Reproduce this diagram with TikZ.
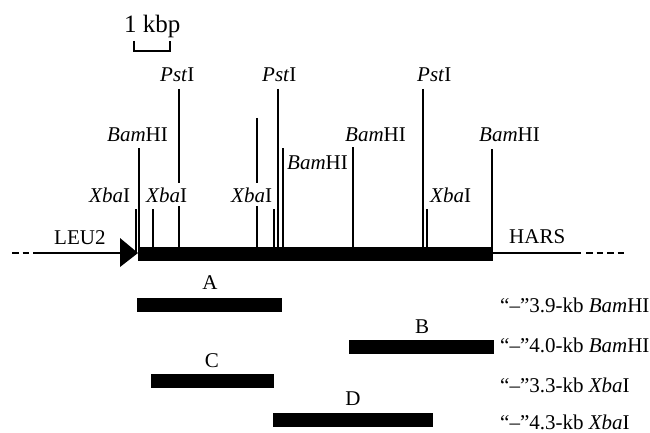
\documentclass[tikz,border=0pt]{standalone}
\usepackage{fontspec}
\setmainfont{Liberation Serif}
\begin{document}
\begin{tikzpicture}[x=1pt, y=-1pt,
  font=\fontsize{21}{25}\selectfont,
  lbl/.style={inner sep=0pt, anchor=base west},
  clbl/.style={inner sep=0pt, anchor=base},
  masklbl/.style={lbl, fill=white, inner xsep=1pt, inner ysep=4pt},
  site/.style={line width=2pt},
  seg/.style={fill=black, draw=none, inner sep=0pt, minimum height=14pt},
  flank/.style={line width=2.5pt},
  flankdash/.style={line width=2.5pt, dash pattern=on 6.5pt off 4pt}]
\useasboundingbox (0,0) rectangle (650,433);

% scale bar
\node[lbl, font=\fontsize{25}{29}\selectfont] (kbp) at (124,33) {1 kbp};
\coordinate (s1) at (134,41);
\coordinate (s2) at (170,41);
\draw[line width=1.3pt] (s1) -- (s1 |- 0,51) -- (s2 |- 0,51) -- (s2);

% flanking vector sequences
\coordinate (lA) at (12,253);
\coordinate (lB) at (40,253);
\coordinate (lC) at (120,253);
\draw[flankdash] (lA) -- (lB);
\draw[flank] (lB) -- (lC);
\fill (120,238) -- (138,253) -- (120,267) -- cycle;
\coordinate (rA) at (493,253);
\coordinate (rB) at (581,253);
\coordinate (rC) at (586,253);
\coordinate (rD) at (626,253);
\draw[flank] (rA) -- (rB);
\draw[flankdash] (rC) -- (rD);
\node[lbl] (leu) at (54,244) {LEU2};
\node[lbl] (hars) at (509,243) {HARS};

% restriction sites
\foreach \x/\t in {136/209, 139/148, 153/209, 179/89, 257/118, 274/209,
                   278/89, 283/148, 353/147, 423/89, 427/209, 492/149}
  \draw[site] (\x,\t) -- (\x,254);

% cloned insert
\node[seg, minimum width=355pt] (insert) at (315.5,254) {};

% site labels
\node[lbl] (p1) at (160,82) {\textit{Pst}I};
\node[lbl] (p2) at (262,82) {\textit{Pst}I};
\node[lbl] (p3) at (417,82) {\textit{Pst}I};
\node[lbl] (b1) at (107,142) {\textit{Bam}HI};
\node[lbl] (b2) at (345,142) {\textit{Bam}HI};
\node[lbl] (b3) at (479,142) {\textit{Bam}HI};
\node[lbl] (b4) at (287,169) {\textit{Bam}HI};
\node[lbl] (x1) at (89,202) {\textit{Xba}I};
\node[masklbl] (x2) at (145,202) {\textit{Xba}I};
\node[masklbl] (x3) at (230,202) {\textit{Xba}I};
\node[lbl] (x4) at (430,202) {\textit{Xba}I};

% probe fragments
\node[seg, minimum width=145pt] (fa) at (209.5,305) {};
\node[seg, minimum width=145pt] (fb) at (421.5,347) {};
\node[seg, minimum width=123pt] (fc) at (212.5,380.5) {};
\node[seg, minimum width=160pt] (fd) at (353,419.5) {};
\node[clbl] (la) at (210,289) {A};
\node[clbl] (lb) at (422,333) {B};
\node[clbl] (lc) at (212,367) {C};
\node[clbl] (ld) at (353,405) {D};

% fragment descriptions
\node[lbl] (da) at (500,312) {“–”3.9-kb \textit{Bam}HI};
\node[lbl] (db) at (500,352) {“–”4.0-kb \textit{Bam}HI};
\node[lbl] (dc) at (500,392) {“–”3.3-kb \textit{Xba}I};
\node[lbl] (dd) at (500,429) {“–”4.3-kb \textit{Xba}I};
\end{tikzpicture}
\end{document}
